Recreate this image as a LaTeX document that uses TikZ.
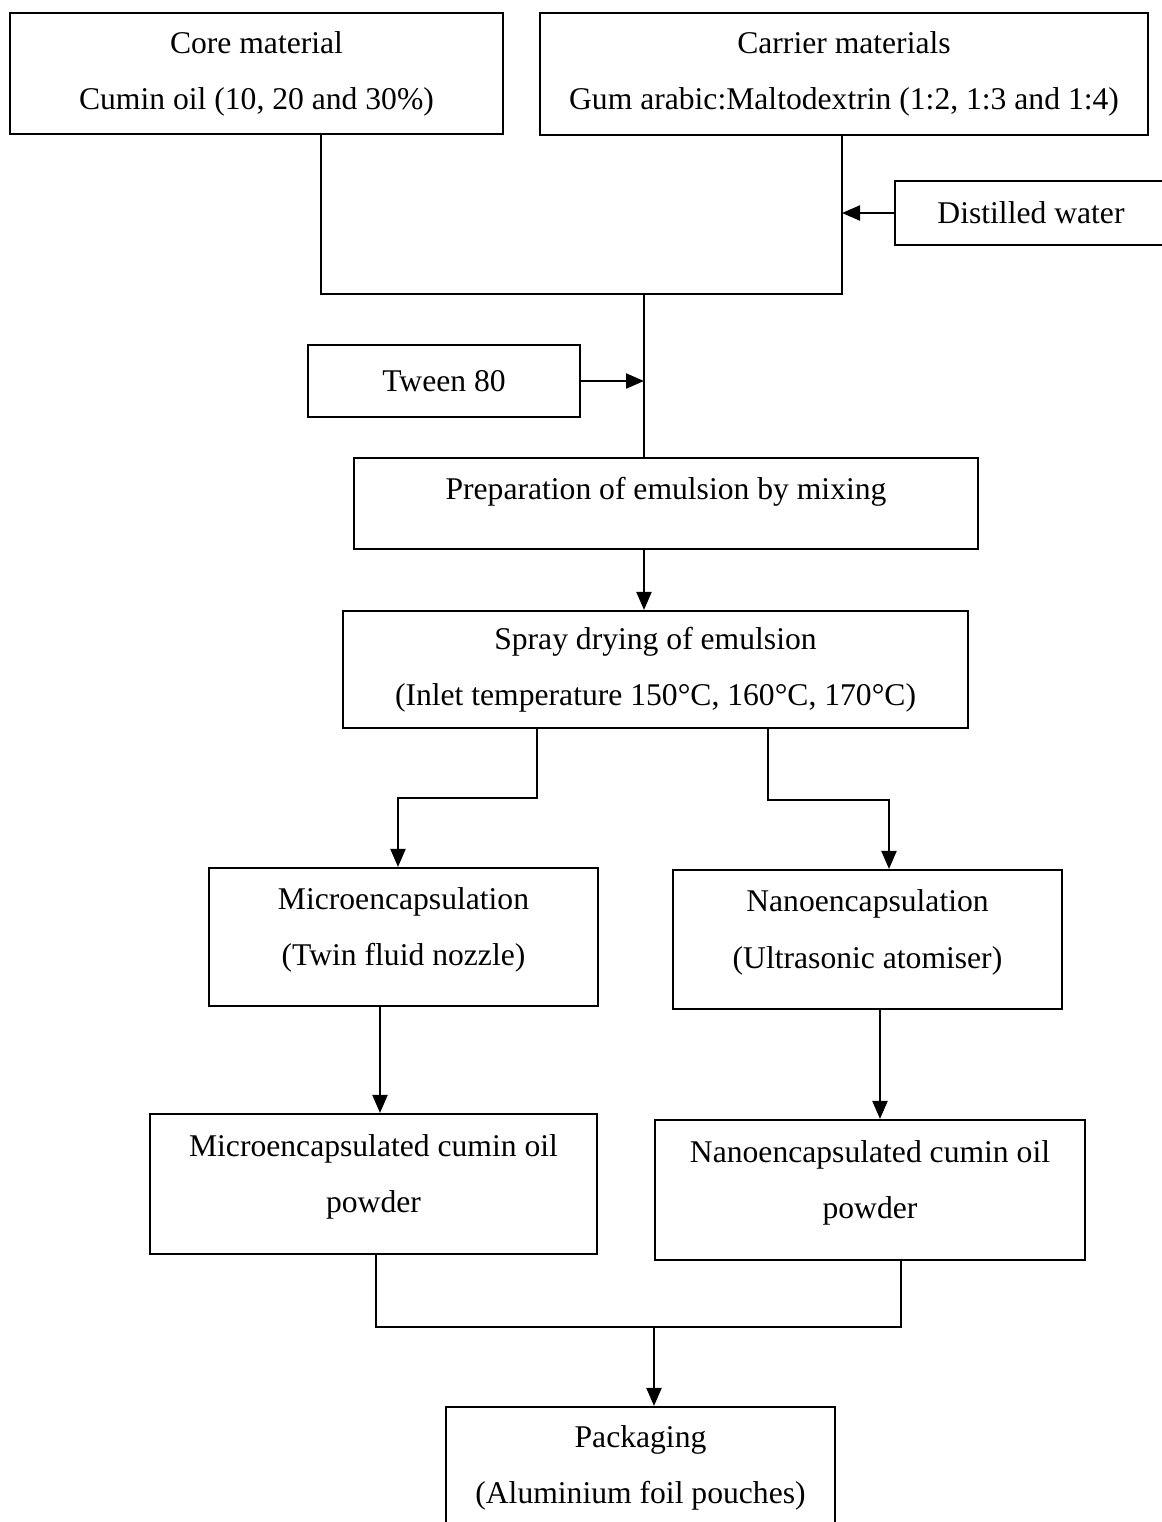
\documentclass[tikz,border=0pt]{standalone}
\usepackage{fontspec}
\setmainfont{Liberation Serif}
\usetikzlibrary{arrows.meta}

\tikzset{
	box/.style 2 args={draw, line width=1.2pt, align=center, inner sep=0pt,
		minimum width=#1*0.02cm, minimum height=#2*0.02cm,
		font=\fontsize{18}{32}\selectfont},
	raised/.style={text depth=0.42cm},
	flow/.style={line width=1.2pt},
	arr/.style={flow, -{Triangle[length=0.36cm,width=0.3cm]}}
}

\begin{document}
\begin{tikzpicture}[x=0.02cm,y=-0.02cm]
		\useasboundingbox (0,0) rectangle (1162,1522);
		% input boxes
		\node[box={493}{121}] (core) at (256.5,73.5) {Core material\\Cumin oil (10, 20 and 30\%)};
		\node[box={608}{122}] (carrier) at (844,74) {Carrier materials\\Gum arabic:Maltodextrin (1:2, 1:3 and 1:4)};
		\node[box={272}{64}] (water) at (1031,213) {Distilled water};
		\node[box={272}{72}] (tween) at (444,381) {Tween 80};
		% process boxes
		\node[box={624}{91}, text depth=0.62cm] (prep) at (666,503.5) {Preparation of emulsion by mixing};
		\node[box={625}{117}] (spray) at (655.5,669.5) {Spray drying of emulsion\\(Inlet temperature 150°C, 160°C, 170°C)};
		\node[box={389}{138}, raised] (micro) at (403.5,937) {Microencapsulation\\(Twin fluid nozzle)};
		\node[box={389}{139}, raised] (nano) at (867.5,939.5) {Nanoencapsulation\\(Ultrasonic atomiser)};
		\node[box={447}{140}, raised] (micropow) at (373.5,1184) {Microencapsulated cumin oil\\powder};
		\node[box={430}{140}, raised] (nanopow) at (870,1190) {Nanoencapsulated cumin oil\\powder};
		\node[box={389}{136}, raised] (pack) at (640.5,1475) {Packaging\\(Aluminium foil pouches)};
		% junction points
		\coordinate (m1) at (321,294);
		\coordinate (m2) at (842,294);
		\coordinate (m3) at (644,294);
		\coordinate (s1) at (537,798);
		\coordinate (s2) at (768,800);
		\coordinate (d1) at (398,798);
		\coordinate (d2) at (889,800);
		\coordinate (v1) at (380,1060);
		\coordinate (v2) at (880,1060);
		\coordinate (j1) at (376,1327);
		\coordinate (j2) at (901,1327);
		\coordinate (j) at (654,1327);
		% connectors
		\draw[flow] (core.south -| m1) -- (m1) -- (m2) -- (carrier.south -| m2);
		\draw[arr] (water.west) -- (water.west -| m2);
		\draw[flow] (m3) -- (prep.north -| m3);
		\draw[arr] (tween.east) -- (tween.east -| m3);
		\draw[arr] (prep.south -| m3) -- (spray.north -| m3);
		\draw[arr] (spray.south -| s1) -- (s1) -- (d1) -- (micro.north -| d1);
		\draw[arr] (spray.south -| s2) -- (s2) -- (d2) -- (nano.north -| d2);
		\draw[arr] (micro.south -| v1) -- (micropow.north -| v1);
		\draw[arr] (nano.south -| v2) -- (nanopow.north -| v2);
		\draw[flow] (micropow.south -| j1) -- (j1) -- (j2) -- (nanopow.south -| j2);
		\draw[arr] (j) -- (pack.north -| j);
	\end{tikzpicture}
\end{document}
